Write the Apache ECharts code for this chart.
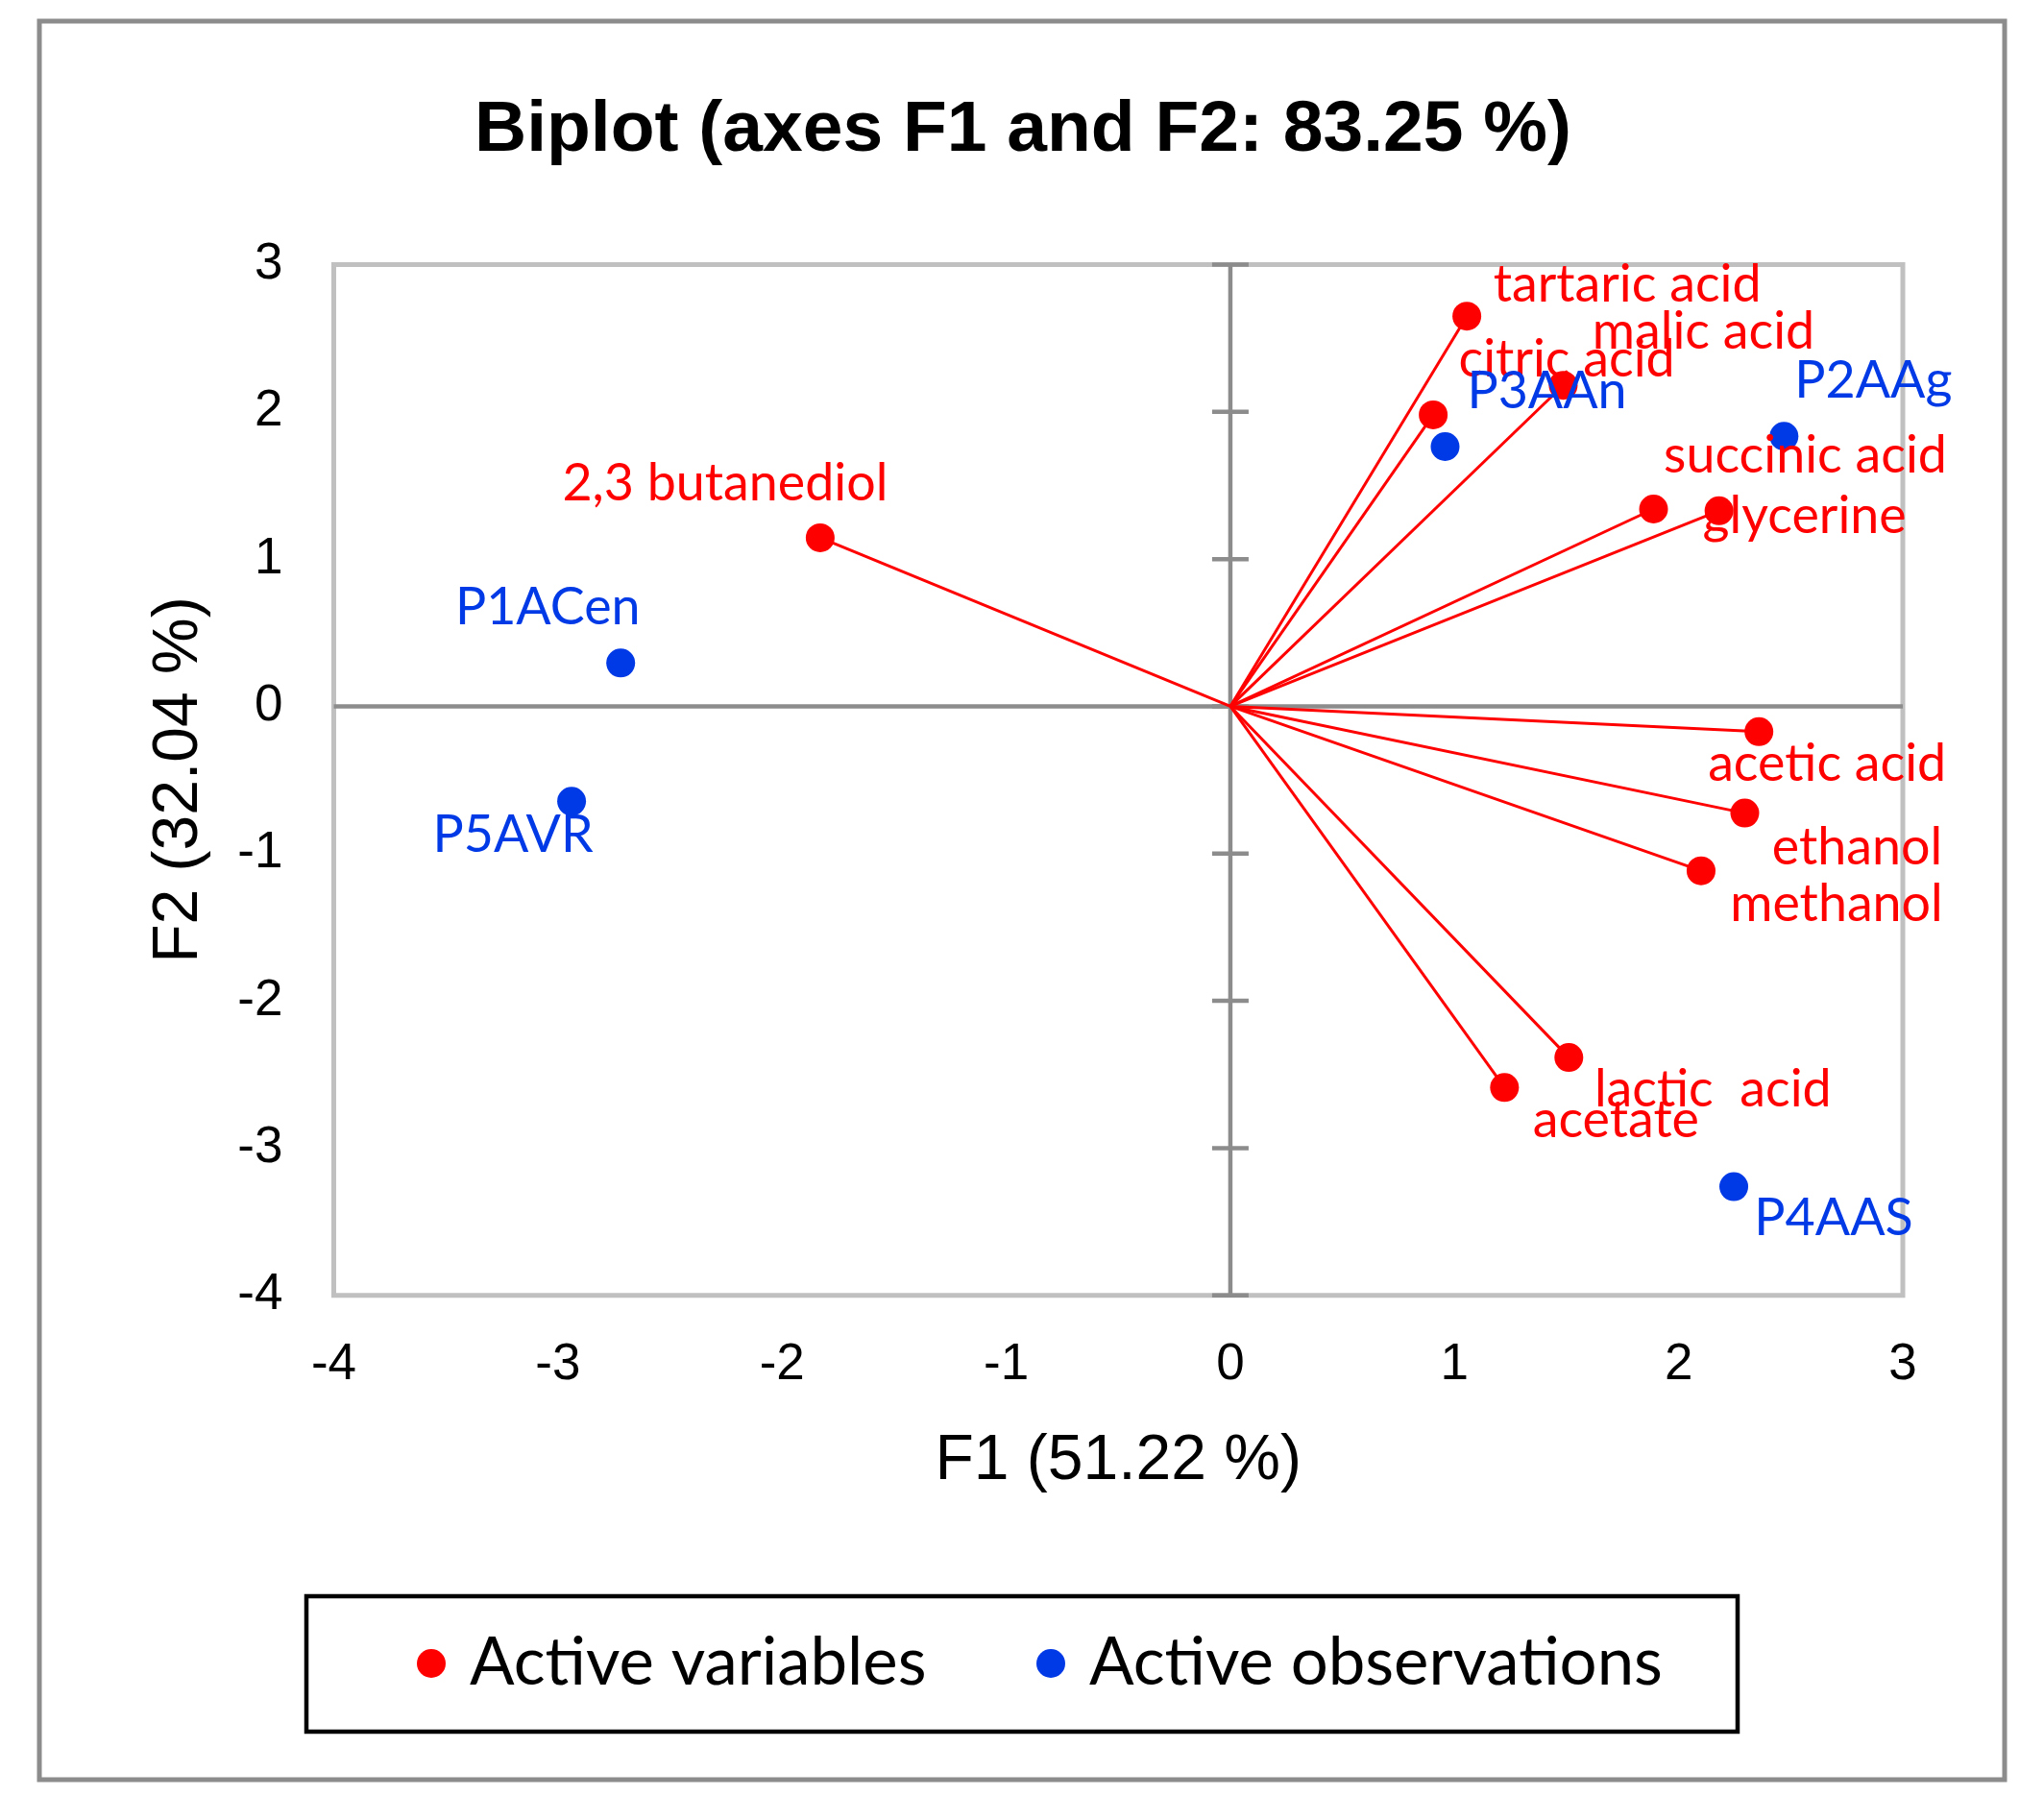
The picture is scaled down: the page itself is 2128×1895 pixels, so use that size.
<!DOCTYPE html>
<html><head><meta charset="utf-8">
<script src="https://cdn.jsdelivr.net/npm/echarts@6/dist/echarts.min.js"></script>
<style>html,body{margin:0;padding:0;background:#fff}#c{width:2128px;height:1895px}</style>
</head><body><div id="c"></div>
<script>
// ---------- data ----------
const varNames = ['tartaric acid','malic acid','citric acid','succinic acid','glycerine','2,3 butanediol','acetic acid','ethanol','methanol','lactic  acid','acetate'];
const varF1 = [1.055, 1.485, 0.905, 1.888, 2.180, -1.830, 2.358, 2.295, 2.100, 1.510, 1.223];
const varF2 = [2.650, 2.180, 1.980, 1.340, 1.328, 1.145, -0.172, -0.725, -1.117, -2.385, -2.589];
const obsNames = ['P1ACen','P2AAg','P3AAn','P4AAS','P5AVR'];
const obsF1 = [-2.720, 2.470, 0.958, 2.246, -2.939];
const obsF2 = [0.294, 1.834, 1.764, -3.262, -0.645];
const axisTicks = [-4, -3, -2, -1, 0, 1, 2, 3];
const titleText = 'Biplot (axes F1 and F2: 83.25 %)';
const xName = 'F1 (51.22 %)';
const yName = 'F2 (32.04 %)';
const seriesNames = ['Active variables', 'Active observations'];

// ---------- layout (label nudges in px: [dx, baseline dy] from point centre) ----------
const varLabelNudge = [[167,-15],[146,-38],[139,-40],[158,-38],[89,23],[-99,-39],[71,51],[117,53],[141,52],[150,51],[116,52]];
const obsLabelNudge = [[-76,-40],[93,-40],[106,-40],[104,50],[-61,53]];

const RED = '#ff0000', BLUE = '#0039e6', AXG = '#8c8c8c';
const LBL_FONT = 'Lato', AX_FONT = 'Liberation Sans';

function ctx(){ return document.createElement('canvas').getContext('2d'); }
function fit(text, target, family, weight){
  const c = ctx(); c.font = (weight||'normal') + ' 100px "' + family + '"';
  return 100 * target / c.measureText(text).width;
}
function midToBase(family, size, weight){
  const c = ctx(); c.font = (weight||'normal') + ' ' + size + 'px "' + family + '"';
  c.textBaseline = 'alphabetic'; const a = c.measureText('H').actualBoundingBoxAscent;
  c.textBaseline = 'middle'; const b = c.measureText('H').actualBoundingBoxAscent;
  return a - b;
}
const labelSize = fit('tartaric acid', 279, LBL_FONT);
const legendSize = fit('Active observations', 597, LBL_FONT);
const lblMid = midToBase(LBL_FONT, labelSize);
const titleSize = 75;
const titleMid = midToBase(AX_FONT, titleSize, 'bold');

const gridL = 347.5, gridR = 1981, gridT = 275.5, gridB = 1348.7;

const varData = varNames.map((n,i)=>({
  name: n, value: [varF1[i], varF2[i]],
  label: { offset: [varLabelNudge[i][0], varLabelNudge[i][1] - lblMid] }
}));
const obsData = obsNames.map((n,i)=>({
  name: n, value: [obsF1[i], obsF2[i]],
  label: { offset: [obsLabelNudge[i][0], obsLabelNudge[i][1] - lblMid] }
}));

const chart = echarts.init(document.getElementById('c'), null, {renderer:'canvas'});
const legendLH = Math.round(legendSize);
const legendCommon = {
  orient:'horizontal', padding:0, itemWidth:30, itemHeight:30, icon:'circle',
  top: 1732 - legendLH/2, selectedMode:false,
  itemStyle:{opacity:1},
  textStyle:{fontFamily:LBL_FONT, fontSize:legendSize, color:'#000', lineHeight:legendLH, padding:[0,0,0,20]}
};

chart.setOption({
  animation:false,
  backgroundColor:'#fff',
  title:{
    text:titleText, left:1065, textAlign:'center', top: 157 - titleSize/2 - titleMid, padding:0,
    textStyle:{fontFamily:AX_FONT, fontWeight:'bold', fontSize:titleSize, color:'#000', lineHeight:titleSize}
  },
  legend:[
    Object.assign({data:[seriesNames[0]], left:434}, legendCommon),
    Object.assign({data:[seriesNames[1]], left:1079}, legendCommon)
  ],
  graphic:[
    {type:'rect', shape:{x:41, y:22, width:2046, height:1831}, style:{fill:'none', stroke:AXG, lineWidth:5}, z:-1, silent:true},
    {type:'rect', shape:{x:319, y:1662, width:1490, height:141}, style:{fill:'none', stroke:'#000', lineWidth:4.5}, z:-1, silent:true}
  ],
  grid:{left:gridL, top:gridT, width:gridR-gridL, height:gridB-gridT, show:true, borderColor:'#c0c0c0', borderWidth:5, backgroundColor:'transparent', containLabel:false},
  xAxis:{
    type:'value', min:-4, max:3, interval:1,
    axisLine:{show:false, onZero:false}, axisTick:{show:false}, splitLine:{show:false},
    axisLabel:{margin:46.5, fontFamily:AX_FONT, fontSize:53, color:'#000', lineHeight:53},
    name:xName, nameLocation:'middle', nameGap:140,
    nameTextStyle:{fontFamily:AX_FONT, fontSize:66, color:'#000', lineHeight:66}
  },
  yAxis:{
    type:'value', min:-4, max:3, interval:1,
    axisLine:{show:false, onZero:false}, axisTick:{show:false}, splitLine:{show:false},
    axisLabel:{margin:53, fontFamily:AX_FONT, fontSize:53, color:'#000', lineHeight:53},
    name:yName, nameLocation:'middle', nameGap:127.5,
    nameTextStyle:{fontFamily:AX_FONT, fontSize:66, color:'#000', lineHeight:66}
  },
  series:[
    {
      name:'zero axes', type:'custom', z:1, silent:true,
      data:[[0,0]],
      renderItem:function(params, api){
        const ch = [];
        const h0 = api.coord([axisTicks[0], 0]), h1 = api.coord([axisTicks[axisTicks.length-1], 0]);
        const v0 = api.coord([0, axisTicks[0]]), v1 = api.coord([0, axisTicks[axisTicks.length-1]]);
        const st = {stroke:AXG, lineWidth:4.5};
        ch.push({type:'line', shape:{x1:h0[0], y1:h0[1], x2:h1[0], y2:h1[1]}, style:st});
        ch.push({type:'line', shape:{x1:v0[0], y1:v0[1], x2:v1[0], y2:v1[1]}, style:st});
        axisTicks.forEach(t=>{
          const p = api.coord([0, t]);
          ch.push({type:'line', shape:{x1:p[0]-19, y1:p[1], x2:p[0]+19, y2:p[1]}, style:st});
        });
        return {type:'group', children:ch};
      }
    },
    {
      name:'vectors', type:'custom', z:2, silent:true,
      data: varF1.map((x,i)=>[x, varF2[i]]),
      renderItem:function(params, api){
        const o = api.coord([0,0]), p = api.coord([api.value(0), api.value(1)]);
        return {type:'line', shape:{x1:o[0], y1:o[1], x2:p[0], y2:p[1]}, style:{stroke:RED, lineWidth:3}};
      }
    },
    {
      name:seriesNames[0], type:'scatter', z:3, symbol:'circle', symbolSize:30,
      itemStyle:{color:RED, opacity:1},
      label:{show:true, position:'inside', formatter:'{b}', color:RED, fontFamily:LBL_FONT, fontSize:labelSize, lineHeight:Math.round(labelSize), align:'center', verticalAlign:'middle'},
      data: varData
    },
    {
      name:seriesNames[1], type:'scatter', z:3, symbol:'circle', symbolSize:30,
      itemStyle:{color:BLUE, opacity:1},
      label:{show:true, position:'inside', formatter:'{b}', color:BLUE, fontFamily:LBL_FONT, fontSize:labelSize, lineHeight:Math.round(labelSize), align:'center', verticalAlign:'middle'},
      data: obsData
    }
  ]
});
</script>
</body></html>
